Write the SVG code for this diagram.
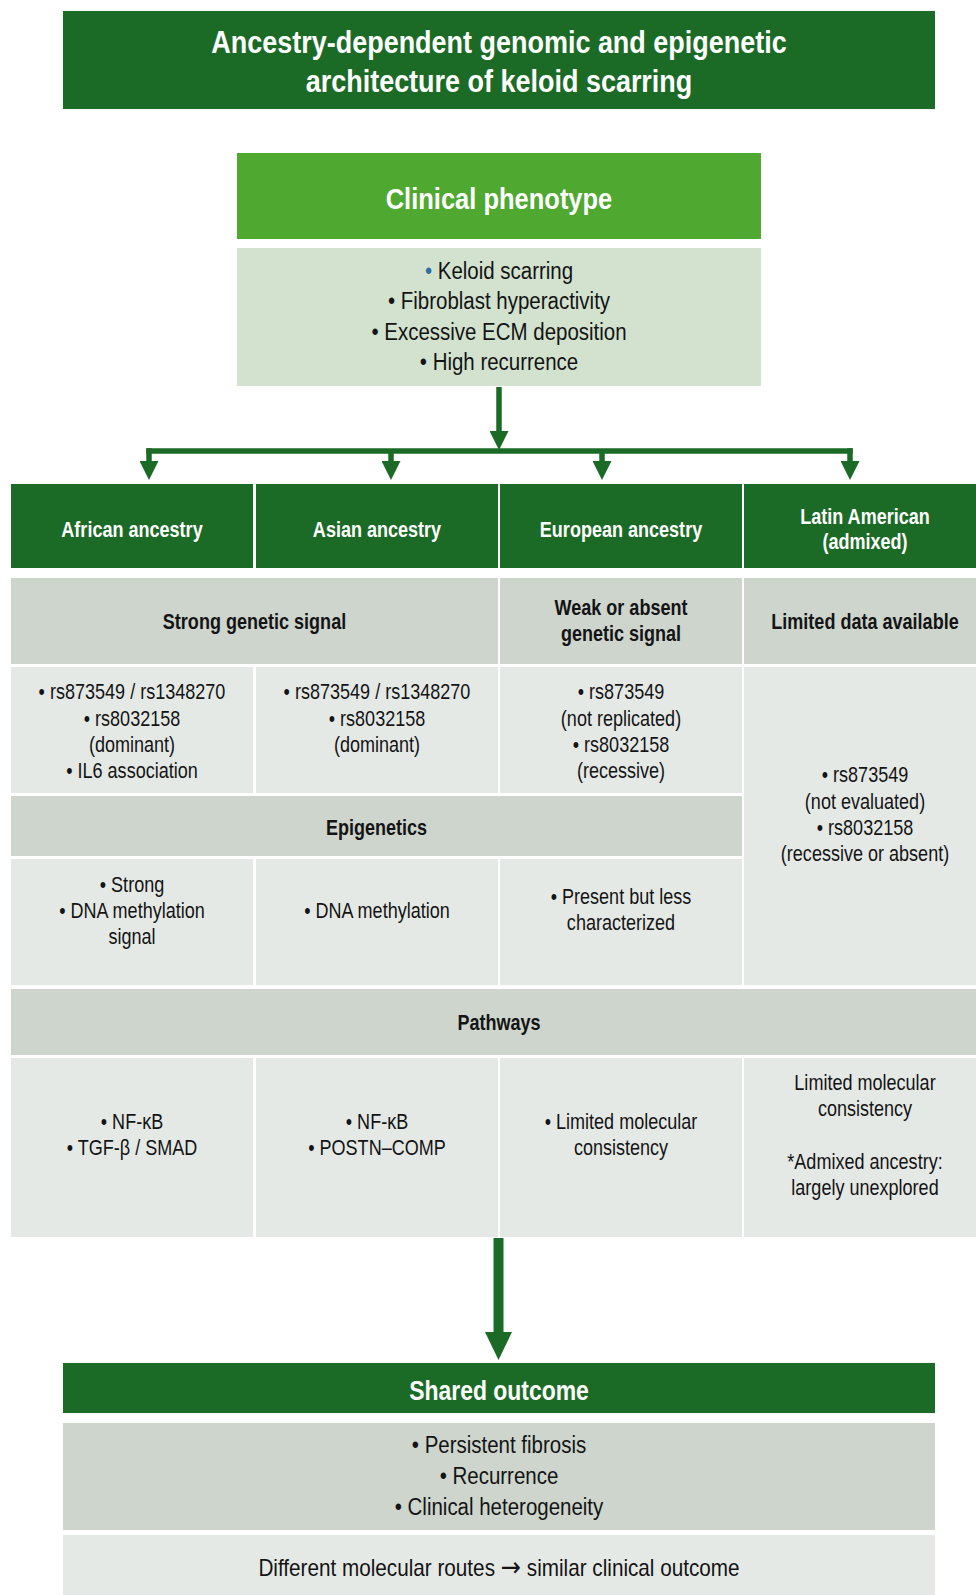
<svg xmlns="http://www.w3.org/2000/svg" width="976" height="1595" viewBox="0 0 976 1595">
<defs>
<style>
text{font-family:"Liberation Sans",Arial,sans-serif;text-anchor:middle;fill:#141414}
.w{fill:#ffffff;font-weight:bold}
.b{font-weight:bold}
.t{font-size:31px}
.h{font-size:22px}
.m{font-size:22px}
.p{font-size:23px}
.dg{fill:#1b6b26}
.bg{fill:#4fa830}
.lg{fill:#d2e2cf}
.gr{fill:#cdd5cd}
.lt{fill:#e5e9e6}
.con{stroke:#1b6b26;fill:none;stroke-linecap:butt}
</style>
<marker id="ah" markerUnits="userSpaceOnUse" viewBox="0 0 19 19" markerWidth="19" markerHeight="19" refX="0" refY="9.5" orient="auto"><path d="M0,0 L19,9.5 L0,19 Z" fill="#1b6b26"/></marker>
<marker id="ahb" markerUnits="userSpaceOnUse" viewBox="0 0 28 27" markerWidth="28" markerHeight="27" refX="0" refY="13.5" orient="auto"><path d="M0,0 L28,13.5 L0,27 Z" fill="#1b6b26"/></marker>
</defs>
<rect width="976" height="1595" fill="#ffffff"/>

<g id="title">
<rect class="dg" x="63" y="11" width="872" height="98"/>
<text class="w t" transform="matrix(.87 0 0 1 499 0)" x="0" y="53">Ancestry-dependent genomic and epigenetic</text>
<text class="w t" transform="matrix(.87 0 0 1 499 0)" x="0" y="92">architecture of keloid scarring</text>
</g>

<g id="clinical-phenotype">
<rect class="bg" x="237" y="153" width="524" height="86"/>
<text class="w" style="font-size:30px" transform="matrix(.85 0 0 1 499 0)" x="0" y="209">Clinical phenotype</text>
<rect class="lg" x="237" y="248" width="524" height="138"/>
<text class="p" transform="matrix(.89 0 0 1 499 0)" x="0" y="279"><tspan fill="#2f6fa0">•</tspan> Keloid scarring</text>
<text class="p" transform="matrix(.89 0 0 1 499 0)" x="0" y="309">• Fibroblast hyperactivity</text>
<text class="p" transform="matrix(.89 0 0 1 499 0)" x="0" y="340">• Excessive ECM deposition</text>
<text class="p" transform="matrix(.89 0 0 1 499 0)" x="0" y="370">• High recurrence</text>
</g>

<g id="connectors">
<line class="con" x1="499" y1="387" x2="499" y2="431" stroke-width="5.5" marker-end="url(#ah)"/>
<line class="con" x1="146.25" y1="451" x2="852.75" y2="451" stroke-width="5.5"/>
<line class="con" x1="149" y1="448.25" x2="149" y2="461" stroke-width="5.5" marker-end="url(#ah)"/>
<line class="con" x1="391" y1="451" x2="391" y2="461" stroke-width="5.5" marker-end="url(#ah)"/>
<line class="con" x1="602" y1="451" x2="602" y2="461" stroke-width="5.5" marker-end="url(#ah)"/>
<line class="con" x1="850" y1="448.25" x2="850" y2="461" stroke-width="5.5" marker-end="url(#ah)"/>
<line class="con" x1="498.5" y1="1238" x2="498.5" y2="1332" stroke-width="10" marker-end="url(#ahb)"/>
</g>

<g id="african-ancestry">
<rect class="dg" x="11" y="484" width="242" height="84"/>
<text class="w h" transform="matrix(.82 0 0 1 132 0)" x="0" y="537">African ancestry</text>
</g>
<g id="asian-ancestry">
<rect class="dg" x="256" y="484" width="242" height="84"/>
<text class="w h" transform="matrix(.82 0 0 1 377 0)" x="0" y="537">Asian ancestry</text>
</g>
<g id="european-ancestry">
<rect class="dg" x="500" y="484" width="242" height="84"/>
<text class="w h" transform="matrix(.82 0 0 1 621 0)" x="0" y="537">European ancestry</text>
</g>
<g id="latin-american">
<rect class="dg" x="744" y="484" width="242" height="84"/>
<text class="w h" transform="matrix(.82 0 0 1 865 0)" x="0" y="524">Latin American</text>
<text class="w h" transform="matrix(.82 0 0 1 865 0)" x="0" y="549">(admixed)</text>
</g>

<g id="genetic-signal">
<rect class="gr" x="11" y="578" width="487" height="86"/>
<text class="b h" transform="matrix(.82 0 0 1 254.5 0)" x="0" y="629">Strong genetic signal</text>
<rect class="gr" x="500" y="578" width="242" height="86"/>
<text class="b h" transform="matrix(.82 0 0 1 621 0)" x="0" y="615">Weak or absent</text>
<text class="b h" transform="matrix(.82 0 0 1 621 0)" x="0" y="641">genetic signal</text>
<rect class="gr" x="744" y="578" width="242" height="86"/>
<text class="b h" transform="matrix(.82 0 0 1 865 0)" x="0" y="629">Limited data available</text>
</g>

<g id="snps">
<rect class="lt" x="11" y="667" width="242" height="126"/>
<text class="m" transform="matrix(.82 0 0 1 132 0)" x="0" y="699">• rs873549 / rs1348270</text>
<text class="m" transform="matrix(.82 0 0 1 132 0)" x="0" y="726">• rs8032158</text>
<text class="m" transform="matrix(.82 0 0 1 132 0)" x="0" y="752">(dominant)</text>
<text class="m" transform="matrix(.82 0 0 1 132 0)" x="0" y="778">• IL6 association</text>
<rect class="lt" x="256" y="667" width="242" height="126"/>
<text class="m" transform="matrix(.82 0 0 1 377 0)" x="0" y="699">• rs873549 / rs1348270</text>
<text class="m" transform="matrix(.82 0 0 1 377 0)" x="0" y="726">• rs8032158</text>
<text class="m" transform="matrix(.82 0 0 1 377 0)" x="0" y="752">(dominant)</text>
<rect class="lt" x="500" y="667" width="242" height="126"/>
<text class="m" transform="matrix(.82 0 0 1 621 0)" x="0" y="699">• rs873549</text>
<text class="m" transform="matrix(.82 0 0 1 621 0)" x="0" y="726">(not replicated)</text>
<text class="m" transform="matrix(.82 0 0 1 621 0)" x="0" y="752">• rs8032158</text>
<text class="m" transform="matrix(.82 0 0 1 621 0)" x="0" y="778">(recessive)</text>
<rect class="lt" x="744" y="667" width="242" height="318"/>
<text class="m" transform="matrix(.82 0 0 1 865 0)" x="0" y="782">• rs873549</text>
<text class="m" transform="matrix(.82 0 0 1 865 0)" x="0" y="809">(not evaluated)</text>
<text class="m" transform="matrix(.82 0 0 1 865 0)" x="0" y="835">• rs8032158</text>
<text class="m" transform="matrix(.82 0 0 1 865 0)" x="0" y="861">(recessive or absent)</text>
</g>

<g id="epigenetics">
<rect class="gr" x="11" y="796" width="731" height="60"/>
<text class="b h" transform="matrix(.82 0 0 1 376.5 0)" x="0" y="835">Epigenetics</text>
<rect class="lt" x="11" y="859" width="242" height="126"/>
<text class="m" transform="matrix(.82 0 0 1 132 0)" x="0" y="892">• Strong</text>
<text class="m" transform="matrix(.82 0 0 1 132 0)" x="0" y="918">• DNA methylation</text>
<text class="m" transform="matrix(.82 0 0 1 132 0)" x="0" y="944">signal</text>
<rect class="lt" x="256" y="859" width="242" height="126"/>
<text class="m" transform="matrix(.82 0 0 1 377 0)" x="0" y="918">• DNA methylation</text>
<rect class="lt" x="500" y="859" width="242" height="126"/>
<text class="m" transform="matrix(.82 0 0 1 621 0)" x="0" y="904">• Present but less</text>
<text class="m" transform="matrix(.82 0 0 1 621 0)" x="0" y="930">characterized</text>
</g>

<g id="pathways">
<rect class="gr" x="11" y="989" width="975" height="66"/>
<text class="b h" transform="matrix(.82 0 0 1 499 0)" x="0" y="1030">Pathways</text>
<rect class="lt" x="11" y="1058" width="242" height="179"/>
<text class="m" transform="matrix(.82 0 0 1 132 0)" x="0" y="1129">• NF-κB</text>
<text class="m" transform="matrix(.82 0 0 1 132 0)" x="0" y="1155">• TGF-β / SMAD</text>
<rect class="lt" x="256" y="1058" width="242" height="179"/>
<text class="m" transform="matrix(.82 0 0 1 377 0)" x="0" y="1129">• NF-κB</text>
<text class="m" transform="matrix(.82 0 0 1 377 0)" x="0" y="1155">• POSTN–COMP</text>
<rect class="lt" x="500" y="1058" width="242" height="179"/>
<text class="m" transform="matrix(.82 0 0 1 621 0)" x="0" y="1129">• Limited molecular</text>
<text class="m" transform="matrix(.82 0 0 1 621 0)" x="0" y="1155">consistency</text>
<rect class="lt" x="744" y="1058" width="242" height="179"/>
<text class="m" transform="matrix(.82 0 0 1 865 0)" x="0" y="1090">Limited molecular</text>
<text class="m" transform="matrix(.82 0 0 1 865 0)" x="0" y="1116">consistency</text>
<text class="m" transform="matrix(.82 0 0 1 865 0)" x="0" y="1169">*Admixed ancestry:</text>
<text class="m" transform="matrix(.82 0 0 1 865 0)" x="0" y="1195">largely unexplored</text>
</g>

<g id="shared-outcome">
<rect class="dg" x="63" y="1363" width="872" height="50"/>
<text class="w" style="font-size:27px" transform="matrix(.85 0 0 1 499 0)" x="0" y="1400">Shared outcome</text>
<rect class="gr" x="63" y="1423" width="872" height="107"/>
<text class="p" transform="matrix(.89 0 0 1 499 0)" x="0" y="1453">• Persistent fibrosis</text>
<text class="p" transform="matrix(.89 0 0 1 499 0)" x="0" y="1484">• Recurrence</text>
<text class="p" transform="matrix(.89 0 0 1 499 0)" x="0" y="1515">• Clinical heterogeneity</text>
<rect class="lt" x="63" y="1535" width="872" height="62"/>
<text class="p" transform="matrix(.9 0 0 1 499 0)" x="0" y="1576">Different molecular routes <tspan style="font-family:'DejaVu Sans',sans-serif;font-size:27px">→</tspan> similar clinical outcome</text>
</g>
</svg>
